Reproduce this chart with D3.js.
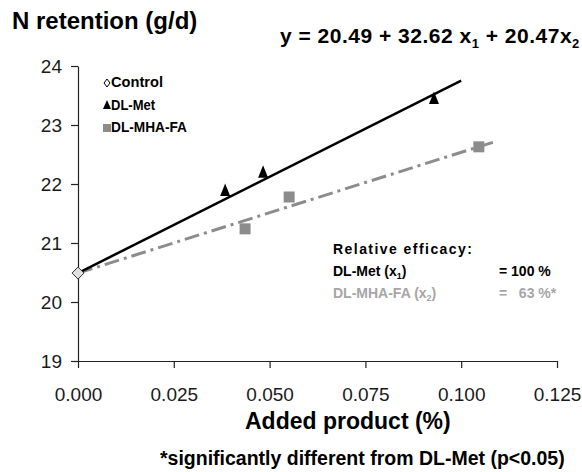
<!DOCTYPE html>
<html><head><meta charset="utf-8">
<script src="https://cdn.jsdelivr.net/npm/d3@7"></script>
<style>body{margin:0;background:#fff}text{font-family:"Liberation Sans",Arial,sans-serif}</style>
</head><body>
<svg id="c" width="582" height="472"></svg>
<script>
const xTicks = [0, 0.025, 0.05, 0.075, 0.1, 0.125];
const yTicks = [19, 20, 21, 22, 23, 24];
const controlX = [0];
const controlY = [20.49];
const metX = [0.0384, 0.0483, 0.0929];
const metY = [21.88, 22.19, 23.44];
const mhaX = [0.0436, 0.0551, 0.1046];
const mhaY = [21.24, 21.78, 22.63];
const intercept = 20.49, slopeMet = 32.62, slopeMha = 20.47;
const lineEndMet = 0.1, lineEndMha = 0.1083;

const svg = d3.select("#c");
const x = d3.scaleLinear().domain([0, 0.125]).range([78, 557]);
const y = d3.scaleLinear().domain([19, 24]).range([361, 66]);

const xa = svg.append("g").attr("transform", "translate(0,361)")
  .call(d3.axisBottom(x).tickValues(xTicks).tickFormat(d3.format(".3f")).tickSize(7).tickSizeOuter(0).tickPadding(20));
const ya = svg.append("g").attr("transform", "translate(78,0)")
  .call(d3.axisLeft(y).tickValues(yTicks).tickFormat(d3.format("d")).tickSize(7).tickSizeOuter(0).tickPadding(9));
[xa, ya].forEach(a => {
  a.select(".domain").attr("stroke", "#222").attr("stroke-width", 1.2);
  a.selectAll("line").attr("stroke", "#222").attr("stroke-width", 1.2);
  a.selectAll("text").attr("font-size", 19).attr("fill", "#1a1a1a").attr("font-family", "Liberation Sans, Arial, sans-serif");
});
ya.selectAll("text").attr("dy", "0.36em");

const line = d3.line().x(d => x(d[0])).y(d => y(d[1]));
svg.append("path").attr("d", line([[0, intercept], [lineEndMha, intercept + slopeMha * lineEndMha]]))
  .attr("stroke", "#8c8c8c").attr("stroke-width", 3).attr("fill", "none").attr("stroke-dasharray", "15,5,3,5");
svg.append("path").attr("d", line([[0, intercept], [lineEndMet, intercept + slopeMet * lineEndMet]]))
  .attr("stroke", "#000").attr("stroke-width", 2.5).attr("fill", "none");

svg.selectAll(".m").data(metX.map((v, i) => [v, metY[i]])).join("path")
  .attr("d", "M0,-7.5L5,5L-5,5Z").attr("transform", d => `translate(${x(d[0])},${y(d[1])})`).attr("fill", "#000");
svg.selectAll(".s").data(mhaX.map((v, i) => [v, mhaY[i]])).join("path")
  .attr("d", "M-5.5,-5.5H5.5V5.5H-5.5Z").attr("transform", d => `translate(${x(d[0])},${y(d[1])})`).attr("fill", "#8c8c8c");
svg.selectAll(".c").data(controlX.map((v, i) => [v, controlY[i]])).join("path")
  .attr("d", "M0,-6L6,0L0,6L-6,0Z").attr("transform", d => `translate(${x(d[0])},${y(d[1])})`)
  .attr("fill", "#e0e0e0").attr("stroke", "#333").attr("stroke-width", 1);

// legend
const lg = svg.append("g");
lg.append("path").attr("d", "M0,-4L3,0L0,4L-3,0Z").attr("transform", "translate(107,83)").attr("fill", "#fff").attr("stroke", "#000");
lg.append("path").attr("d", "M0,-5L4,4L-4,4Z").attr("transform", "translate(107,105)").attr("fill", "#000");
lg.append("rect").attr("x", 103).attr("y", 124).attr("width", 8).attr("height", 8).attr("fill", "#8c8c8c");
[["Control", 87, 52], ["DL-Met", 110, 44], ["DL-MHA-FA", 132, 76]].forEach(([t, yy, w]) =>
  lg.append("text").attr("x", 111).attr("y", yy).attr("font-size", 14).attr("font-weight", "bold")
    .attr("textLength", w).attr("lengthAdjust", "spacingAndGlyphs").text(t));

svg.append("text").attr("x", 12).attr("y", 29).attr("font-size", 24).attr("font-weight", "bold").text("N retention (g/d)");
const eq = svg.append("text").attr("x", 280).attr("y", 43).attr("font-size", 21).attr("font-weight", "bold").attr("letter-spacing", 0.5);
eq.append("tspan").text("y = 20.49 + 32.62 x");
eq.append("tspan").attr("font-size", 13).attr("dy", 5).text("1");
eq.append("tspan").attr("dy", -5).text(" + 20.47x");
eq.append("tspan").attr("font-size", 13).attr("dy", 5).text("2");

svg.append("text").attr("x", 333).attr("y", 254).attr("font-size", 14).attr("font-weight", "bold")
  .attr("textLength", 139).attr("lengthAdjust", "spacing").text("Relative efficacy:");
const r1 = svg.append("text").attr("x", 333).attr("y", 276).attr("font-size", 14).attr("font-weight", "bold");
r1.append("tspan").text("DL-Met (x");
r1.append("tspan").attr("font-size", 9).attr("dy", 3).text("1");
r1.append("tspan").attr("dy", -3).text(")");
svg.append("text").attr("x", 499).attr("y", 276).attr("font-size", 14).attr("font-weight", "bold")
  .attr("xml:space", "preserve").style("white-space", "pre").text("= 100 %");
const r2 = svg.append("text").attr("x", 333).attr("y", 298).attr("font-size", 14).attr("font-weight", "bold").attr("fill", "#a6a6a6");
r2.append("tspan").text("DL-MHA-FA (x");
r2.append("tspan").attr("font-size", 9).attr("dy", 3).text("2");
r2.append("tspan").attr("dy", -3).text(")");
svg.append("text").attr("x", 499).attr("y", 298).attr("font-size", 14).attr("font-weight", "bold").attr("fill", "#a6a6a6")
  .attr("xml:space", "preserve").style("white-space", "pre").text("=   63 %*");

svg.append("text").attr("x", 245).attr("y", 429).attr("font-size", 23).attr("font-weight", "bold").text("Added product (%)");
svg.append("text").attr("x", 160).attr("y", 465).attr("font-size", 19.5).attr("font-weight", "bold").text("*significantly different from DL-Met (p<0.05)");
</script>
</body></html>
